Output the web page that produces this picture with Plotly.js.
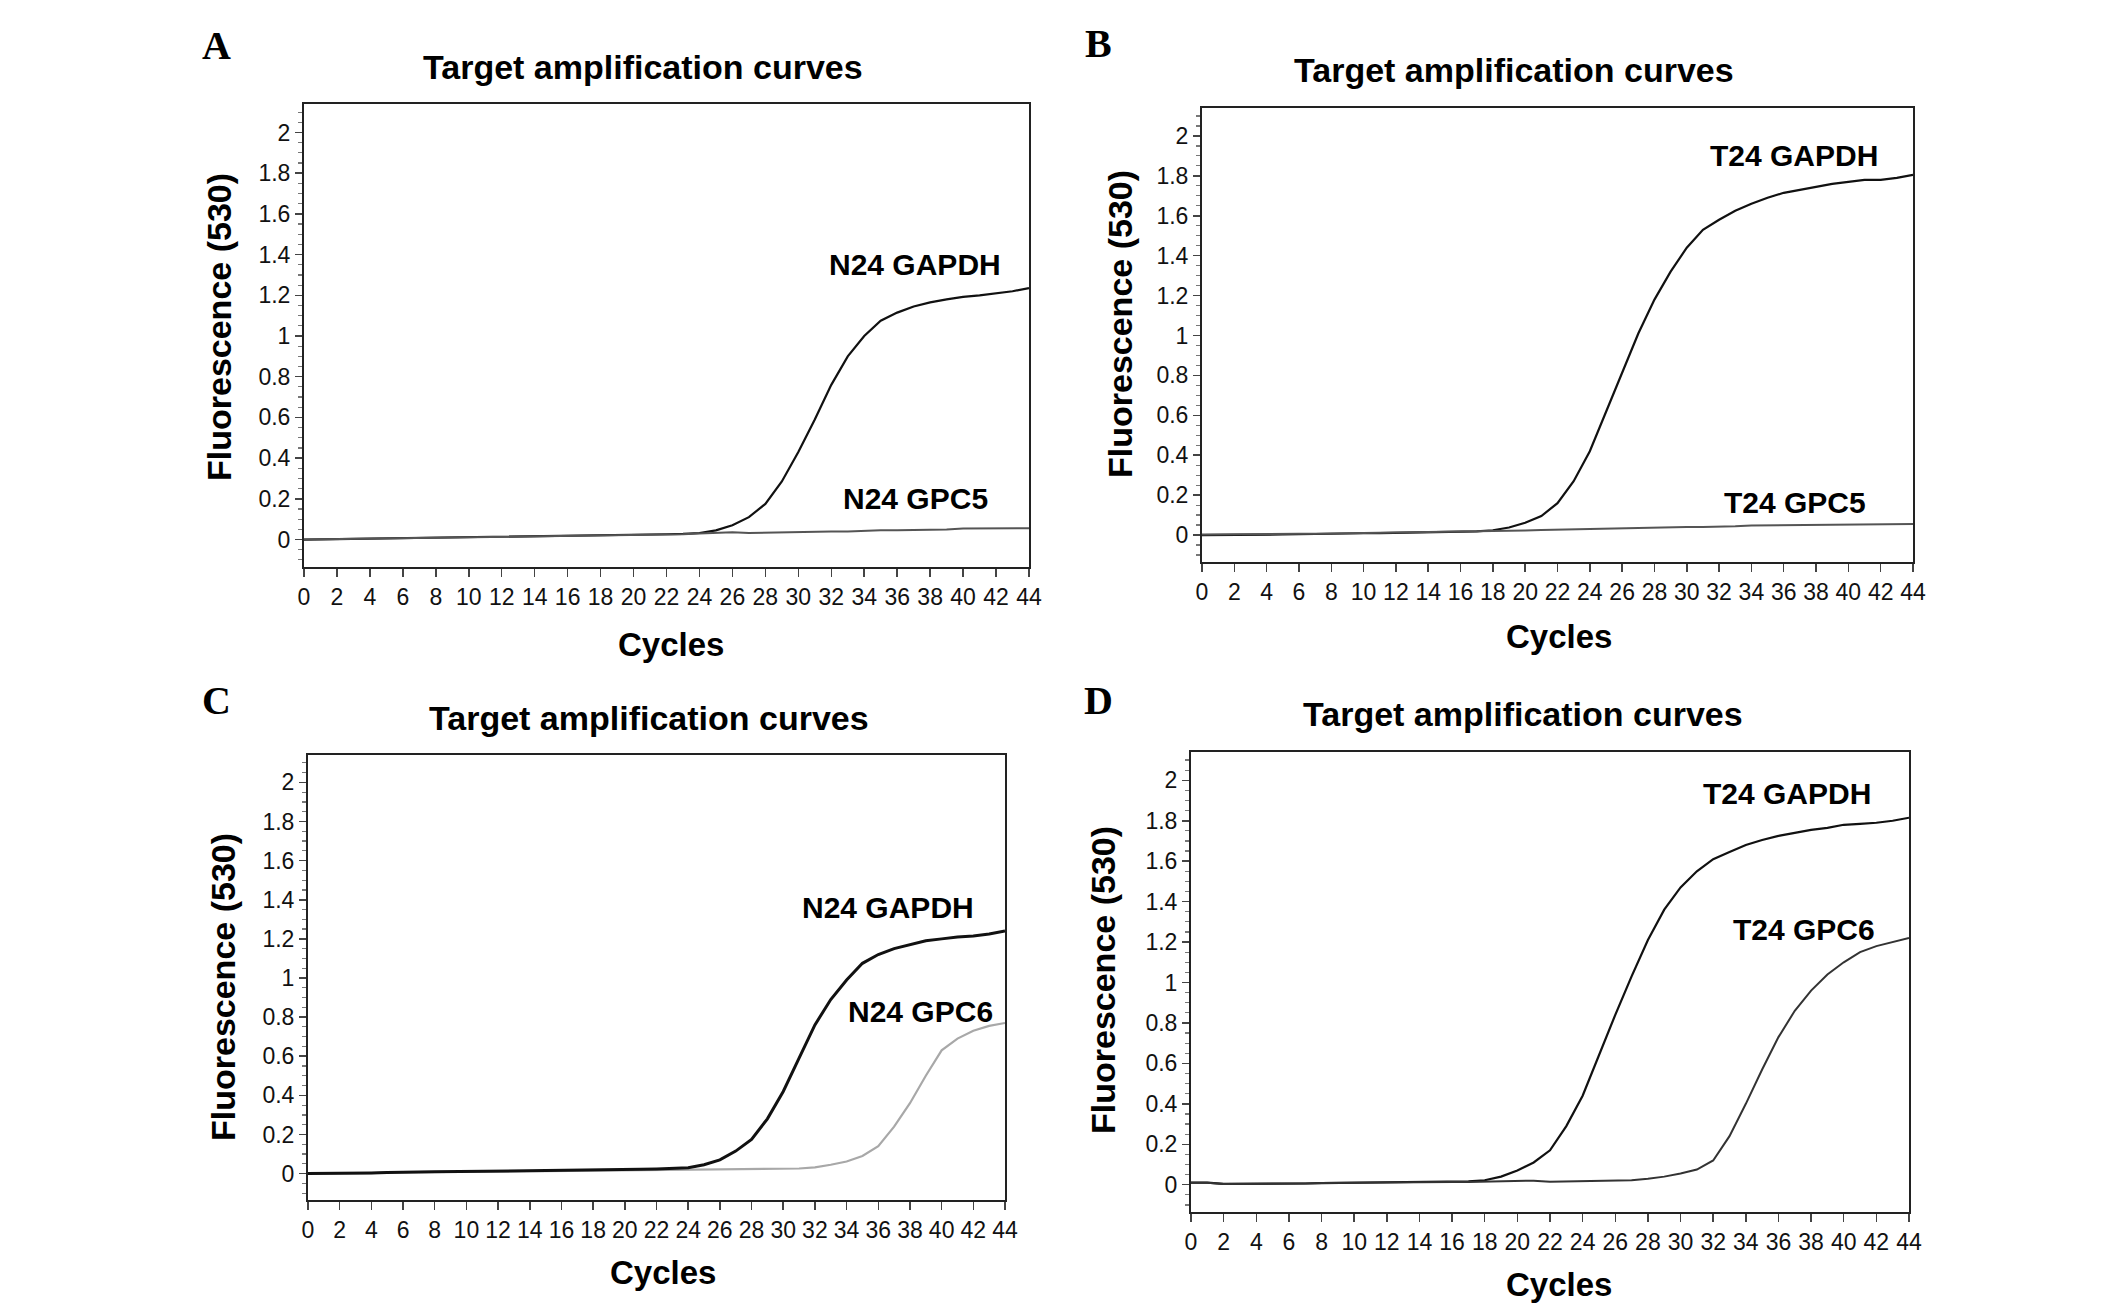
<!DOCTYPE html>
<html>
<head>
<meta charset="utf-8">
<script src="https://cdn.plot.ly/plotly-3.0.1.min.js"></script>
<style>html,body{margin:0;padding:0;background:#fff;}#chart{width:2126px;height:1313px;}</style>
</head>
<body>
<div id="chart"></div>
<script>
// ---- data ----
var cycles = [0,1,2,3,4,5,6,7,8,9,10,11,12,13,14,15,16,17,18,19,20,21,22,23,24,25,26,27,28,29,30,31,32,33,34,35,36,37,38,39,40,41,42,43,44];
var xTickVals = [0,2,4,6,8,10,12,14,16,18,20,22,24,26,28,30,32,34,36,38,40,42,44];
var yTickVals = [0,0.2,0.4,0.6,0.8,1,1.2,1.4,1.6,1.8,2];
var yTickText = ["0","0.2","0.4","0.6","0.8","1","1.2","1.4","1.6","1.8","2"];

var panelLetters = ["A","B","C","D"];
var panelTitle = "Target amplification curves";
var xTitle = "Cycles";
var yTitle = "Fluorescence (530)";

// Panel A
var aGapdh = [0.000,0.001,0.002,0.003,0.005,0.006,0.007,0.008,0.009,0.010,0.011,0.012,0.013,0.014,0.015,0.016,0.017,0.018,0.019,0.020,0.022,0.024,0.026,0.028,0.032,0.045,0.070,0.110,0.175,0.285,0.430,0.590,0.760,0.900,1.000,1.075,1.115,1.145,1.165,1.180,1.192,1.200,1.210,1.220,1.235];
var aGpc5 = [0.000,0.001,0.002,0.003,0.004,0.005,0.006,0.007,0.008,0.009,0.010,0.011,0.012,0.013,0.014,0.015,0.016,0.017,0.018,0.019,0.020,0.022,0.024,0.026,0.030,0.034,0.036,0.032,0.034,0.036,0.037,0.038,0.039,0.040,0.044,0.045,0.046,0.047,0.048,0.049,0.054,0.055,0.055,0.055,0.055];
// Panel B
var bGapdh = [0.000,0.000,0.001,0.002,0.002,0.003,0.004,0.006,0.007,0.008,0.009,0.010,0.011,0.012,0.013,0.014,0.016,0.018,0.024,0.038,0.062,0.095,0.160,0.270,0.420,0.620,0.820,1.010,1.180,1.320,1.440,1.530,1.580,1.625,1.660,1.690,1.715,1.730,1.745,1.760,1.770,1.780,1.780,1.790,1.805];
var bGpc5 = [0.003,0.003,0.004,0.004,0.005,0.005,0.006,0.007,0.008,0.009,0.010,0.011,0.012,0.013,0.014,0.015,0.016,0.018,0.020,0.021,0.023,0.025,0.027,0.029,0.031,0.033,0.035,0.036,0.037,0.038,0.040,0.041,0.042,0.044,0.048,0.049,0.050,0.051,0.052,0.053,0.055,0.055,0.055,0.055,0.056];
// Panel C
var cGapdh = [0.000,0.000,0.001,0.002,0.003,0.005,0.008,0.008,0.009,0.010,0.010,0.011,0.012,0.013,0.014,0.014,0.015,0.015,0.016,0.018,0.020,0.022,0.024,0.026,0.030,0.045,0.070,0.115,0.175,0.280,0.420,0.590,0.760,0.890,0.990,1.075,1.120,1.150,1.170,1.190,1.200,1.210,1.215,1.225,1.240];
var cGpc6 = [0.000,0.000,0.000,0.001,0.002,0.006,0.007,0.007,0.008,0.008,0.009,0.009,0.010,0.011,0.012,0.012,0.013,0.013,0.014,0.015,0.016,0.017,0.017,0.018,0.018,0.019,0.020,0.021,0.022,0.023,0.024,0.026,0.032,0.045,0.062,0.090,0.140,0.240,0.360,0.500,0.630,0.690,0.730,0.755,0.770];
// Panel D
var dGapdh = [0.010,0.010,0.004,0.004,0.005,0.007,0.005,0.006,0.008,0.009,0.010,0.010,0.011,0.012,0.012,0.013,0.015,0.017,0.022,0.040,0.070,0.110,0.170,0.290,0.440,0.640,0.840,1.030,1.210,1.360,1.470,1.550,1.610,1.645,1.680,1.705,1.725,1.740,1.755,1.765,1.780,1.785,1.790,1.800,1.815];
var dGpc6 = [0.010,0.010,0.004,0.004,0.005,0.006,0.006,0.006,0.008,0.009,0.010,0.010,0.011,0.011,0.012,0.012,0.013,0.013,0.014,0.015,0.016,0.020,0.015,0.016,0.017,0.018,0.020,0.022,0.030,0.040,0.055,0.075,0.120,0.240,0.400,0.570,0.730,0.860,0.960,1.040,1.100,1.150,1.180,1.200,1.220];

var labelsA = ["N24 GAPDH","N24 GPC5"];
var labelsB = ["T24 GAPDH","T24 GPC5"];
var labelsC = ["N24 GAPDH","N24 GPC6"];
var labelsD = ["T24 GAPDH","T24 GPC6"];

// ---- layout helpers ----
var W = 2126, H = 1313;
function px(x){ return x / W; }
function py(y){ return 1 - y / H; }

var panels = [
  {box:[304,1029,104,567], series:[[aGapdh,'#111111',2.2],[aGpc5,'#555555',2]], labels:labelsA,
   lab:[[915,264],[915,499]], letter:[216,45], title:[643,67], xt:[671,645], yt:[219,327]},
  {box:[1202,1913,108,562], series:[[bGapdh,'#111111',2.2],[bGpc5,'#555555',2]], labels:labelsB,
   lab:[[1794,155],[1795,502]], letter:[1098,43], title:[1514,70], xt:[1559,636], yt:[1120,324]},
  {box:[308,1005,755,1200], series:[[cGpc6,'#a8a8a8',2.2],[cGapdh,'#111111',3]], labels:labelsC,
   lab:[[888,907],[920,1011]], letter:[216,700], title:[649,718], xt:[663,1272], yt:[223,987]},
  {box:[1191,1909,752,1212], series:[[dGapdh,'#111111',2.2],[dGpc6,'#333333',2]], labels:labelsD,
   lab:[[1787,794],[1804,930]], letter:[1098,700], title:[1523,714], xt:[1559,1284], yt:[1103,980]}
];

var sans = 'Liberation Sans, Arial, sans-serif';
var traces = [];
var layout = {
  width: W, height: H,
  margin: {l:0, r:0, t:0, b:0},
  paper_bgcolor: '#ffffff', plot_bgcolor: '#ffffff',
  showlegend: false,
  annotations: []
};

panels.forEach(function(p, i){
  var n = i === 0 ? '' : String(i + 1);
  var xa = 'xaxis' + n, ya = 'yaxis' + n;
  p.series.forEach(function(s){
    traces.push({x: cycles, y: s[0], type: 'scatter', mode: 'lines',
      line: {color: s[1], width: s[2]}, xaxis: 'x' + n, yaxis: 'y' + n, hoverinfo: 'skip'});
  });
  layout[xa] = {
    domain: [px(p.box[0]), px(p.box[1])], anchor: 'y' + n,
    range: [0, 44], tickvals: xTickVals, ticks: 'outside', ticklen: 8, tickwidth: 1.5, tickcolor: '#444',
    showline: true, mirror: true, linecolor: '#222', linewidth: 2, showgrid: false, zeroline: false,
    tickfont: {family: sans, size: 23, color: '#111'}, fixedrange: true
  };
  layout[ya] = {
    domain: [py(p.box[3]), py(p.box[2])], anchor: 'x' + n,
    range: [-0.135, 2.14], tickvals: yTickVals, ticktext: yTickText, ticks: 'outside', ticklen: 7, tickwidth: 1.5, tickcolor: '#444',
    minor: {dtick: 0.05, tick0: 0, ticks: 'outside', ticklen: 4, tickcolor: '#777', tickwidth: 1.2, showgrid: false},
    showline: true, mirror: true, linecolor: '#222', linewidth: 2, showgrid: false, zeroline: false,
    tickfont: {family: sans, size: 23, color: '#111'}, fixedrange: true
  };
  var A = layout.annotations;
  function ann(txt, pos, font, extra){
    var o = {text: txt, x: px(pos[0]), y: py(pos[1]), xref: 'paper', yref: 'paper',
      xanchor: 'center', yanchor: 'middle', showarrow: false, font: font};
    for (var k in extra) o[k] = extra[k];
    A.push(o);
  }
  ann('<b>' + panelLetters[i] + '</b>', p.letter, {family: 'Liberation Serif, Times New Roman, serif', size: 40, color: '#000'});
  ann('<b>' + panelTitle + '</b>', p.title, {family: sans, size: 34, color: '#000'});
  ann('<b>' + xTitle + '</b>', p.xt, {family: sans, size: 33, color: '#000'});
  ann('<b>' + yTitle + '</b>', p.yt, {family: sans, size: 34, color: '#000'}, {textangle: -90});
  ann('<b>' + p.labels[0] + '</b>', p.lab[0], {family: sans, size: 30, color: '#000'});
  ann('<b>' + p.labels[1] + '</b>', p.lab[1], {family: sans, size: 30, color: '#000'});
});

Plotly.newPlot('chart', traces, layout, {displayModeBar: false, staticPlot: true});
</script>
</body>
</html>
